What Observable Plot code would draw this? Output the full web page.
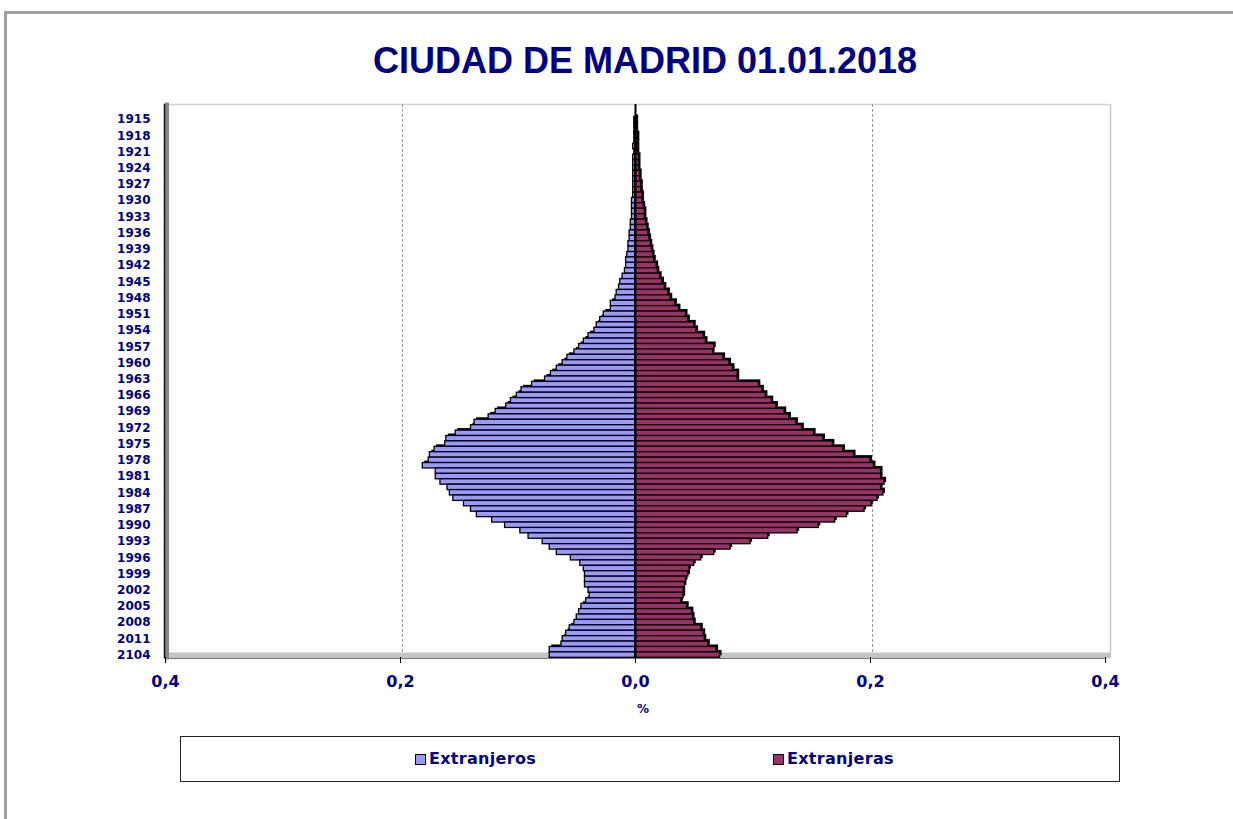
<!DOCTYPE html>
<html>
<head>
<meta charset="utf-8">
<script src="https://cdn.jsdelivr.net/npm/d3@7"></script>
<script src="https://cdn.jsdelivr.net/npm/@observablehq/plot@0.6"></script>
<style>
  html, body { margin: 0; padding: 0; background: #fff; overflow: hidden; }
  body { width: 1233px; height: 819px; position: relative; font-family: "DejaVu Sans", sans-serif; }
  #frame { position: absolute; left: 4px; top: 11px; width: 1300px; height: 900px; border-top: 3px solid #a0a0a0; border-left: 3px solid #a0a0a0; }
  #title { position: absolute; left: 0; width: 1290px; top: 43px; text-align: center; font-family: "Liberation Sans", Arial, sans-serif; font-weight: bold; font-size: 36px; line-height: 36px; color: #000080; }
  #chart { position: absolute; left: 0; top: 0; }
  #xlabel { position: absolute; left: 600px; width: 86px; top: 702px; text-align: center; font-weight: bold; font-size: 12px; color: #000080; }
  #legend { position: absolute; left: 180px; top: 736px; width: 938px; height: 44px; border: 1px solid #222; background: #fff; }
  .item { position: absolute; top: 13px; font-weight: bold; font-size: 16px; letter-spacing: 0.3px; color: #000080; line-height: 17px; white-space: nowrap; }
  .sw { display: inline-block; width: 9px; height: 9px; border: 1.5px solid #000; margin-right: 3px; vertical-align: -1px; }
</style>
</head>
<body>
<div id="frame"></div>
<div id="title">CIUDAD DE MADRID 01.01.2018</div>
<div id="chart"></div>
<div id="xlabel">%</div>
<div id="legend"></div>
<script>
// Birth-year categories (top to bottom)
const years = d3.range(1915, 2015);
// Tick labels shown on the vertical axis (every third year, as printed)
const tickYears = [1915,1918,1921,1924,1927,1930,1933,1936,1939,1942,1945,1948,1951,1954,1957,1960,1963,1966,1969,1972,1975,1978,1981,1984,1987,1990,1993,1996,1999,2002,2005,2008,2011,2014];
const tickLabels = ["1915","1918","1921","1924","1927","1930","1933","1936","1939","1942","1945","1948","1951","1954","1957","1960","1963","1966","1969","1972","1975","1978","1981","1984","1987","1990","1993","1996","1999","2002","2005","2008","2011","2104"];
const xTicks = [-0.4, -0.2, 0, 0.2, 0.4];
const seriesNames = ["Extranjeros", "Extranjeras"];
const seriesColors = ["#9999ff", "#993366"];

// Extranjeros (men), % of population
const extranjeros = [
  0.001,0.001,0.001,0.001,0.001,0.002,0.001,0.002,0.002,0.002,
  0.002,0.002,0.002,0.002,0.002,0.003,0.003,0.003,0.003,0.004,
  0.004,0.005,0.005,0.006,0.006,0.007,0.008,0.008,0.009,0.011,
  0.013,0.014,0.016,0.017,0.021,0.021,0.027,0.030,0.033,0.035,
  0.040,0.044,0.048,0.052,0.058,0.062,0.067,0.072,0.077,0.088,
  0.097,0.101,0.106,0.110,0.119,0.125,0.137,0.140,0.153,0.161,
  0.162,0.171,0.175,0.176,0.181,0.170,0.170,0.166,0.160,0.158,
  0.155,0.146,0.140,0.135,0.122,0.111,0.098,0.091,0.079,0.073,
  0.067,0.055,0.047,0.044,0.043,0.043,0.043,0.040,0.039,0.042,
  0.046,0.048,0.050,0.052,0.056,0.059,0.062,0.063,0.073,0.073
];
// Extranjeras (women), % of population
const extranjeras = [
  0.001,0.001,0.001,0.002,0.002,0.002,0.002,0.003,0.003,0.003,
  0.004,0.004,0.005,0.005,0.006,0.006,0.007,0.008,0.008,0.009,
  0.010,0.011,0.012,0.013,0.014,0.015,0.016,0.018,0.019,0.021,
  0.023,0.025,0.028,0.030,0.034,0.037,0.043,0.045,0.050,0.052,
  0.058,0.060,0.067,0.066,0.075,0.080,0.083,0.087,0.087,0.105,
  0.108,0.111,0.116,0.120,0.127,0.131,0.137,0.142,0.152,0.160,
  0.168,0.177,0.186,0.200,0.203,0.209,0.209,0.212,0.209,0.211,
  0.206,0.201,0.195,0.180,0.170,0.156,0.138,0.113,0.098,0.081,
  0.067,0.056,0.050,0.046,0.045,0.043,0.042,0.041,0.041,0.039,
  0.044,0.048,0.049,0.050,0.056,0.058,0.059,0.062,0.069,0.072
];

const rows = years.map((y, i) => ({year: y, m: extranjeros[i], f: extranjeras[i]}));
const labelOf = new Map(tickYears.map((y, i) => [y, tickLabels[i]]));
const fmtX = d => Math.abs(d).toFixed(1).replace(".", ",");

const chart = Plot.plot({
  width: 1233,
  height: 700,
  marginLeft: 165,
  marginRight: 128,
  marginTop: 104,
  marginBottom: 43,
  style: {fontFamily: "DejaVu Sans, sans-serif", fontWeight: "bold", background: "transparent", color: "#000080"},
  x: {domain: [-0.4, 0.4]},
  y: {domain: years, range: [116.3, 657.3], padding: 0},
  marks: [
    // back wall
    Plot.frame({anchor: "top", stroke: "#d4d4d4", strokeWidth: 1.5, dx: 3}),
    Plot.ruleX([0.4], {stroke: "#c8c8c8", strokeWidth: 1.5, dx: 5}),
    Plot.ruleX([-0.2, 0.2], {stroke: "#9a9a9a", strokeDasharray: "3,2", dx: 2}),
    // floor
    Plot.frame({anchor: "bottom", stroke: "#c4c4c4", strokeWidth: 6, dy: -2, dx: 2}),
    Plot.frame({anchor: "bottom", stroke: "#777", strokeWidth: 1.2, dy: 1}),
    // left wall
    Plot.frame({anchor: "left", stroke: "#888", strokeWidth: 4, dx: 1.5, strokeDasharray: "2,1"}),
    Plot.frame({anchor: "left", stroke: "#111", strokeWidth: 1.5, dx: -1}),
    // bar depth shadows
    Plot.barX(rows, {y: "year", x1: 0, x2: d => -d.m, fill: "#000", dx: 2, dy: -2}),
    Plot.barX(rows, {y: "year", x1: 0, x2: d => d.f, fill: "#000", dx: 2, dy: -2}),
    // bars
    Plot.barX(rows, {y: "year", x1: 0, x2: d => -d.m, fill: seriesColors[0], stroke: "#000", strokeWidth: 1.3}),
    Plot.barX(rows, {y: "year", x1: 0, x2: d => d.f, fill: seriesColors[1], stroke: "#000", strokeWidth: 1.3}),
    Plot.ruleX([0], {stroke: "#000", strokeWidth: 2}),
    Plot.axisX({ticks: xTicks, tickFormat: fmtX, tickSize: 6, tickPadding: 12, fontSize: 16, fill: "#000080", stroke: "#000", label: null}),
    Plot.axisY({ticks: tickYears, tickFormat: d => labelOf.get(d), tickSize: 0, tickPadding: 15, fontSize: 12, fill: "#000080", label: null})
  ]
});
document.getElementById("chart").appendChild(chart);

// legend
const legend = document.getElementById("legend");
const legendX = [234, 592];
seriesNames.forEach((name, i) => {
  const it = document.createElement("div");
  it.className = "item";
  it.style.left = legendX[i] + "px";
  it.innerHTML = `<span class="sw" style="background:${seriesColors[i]}"></span>${name}`;
  legend.appendChild(it);
});
</script>
</body>
</html>
